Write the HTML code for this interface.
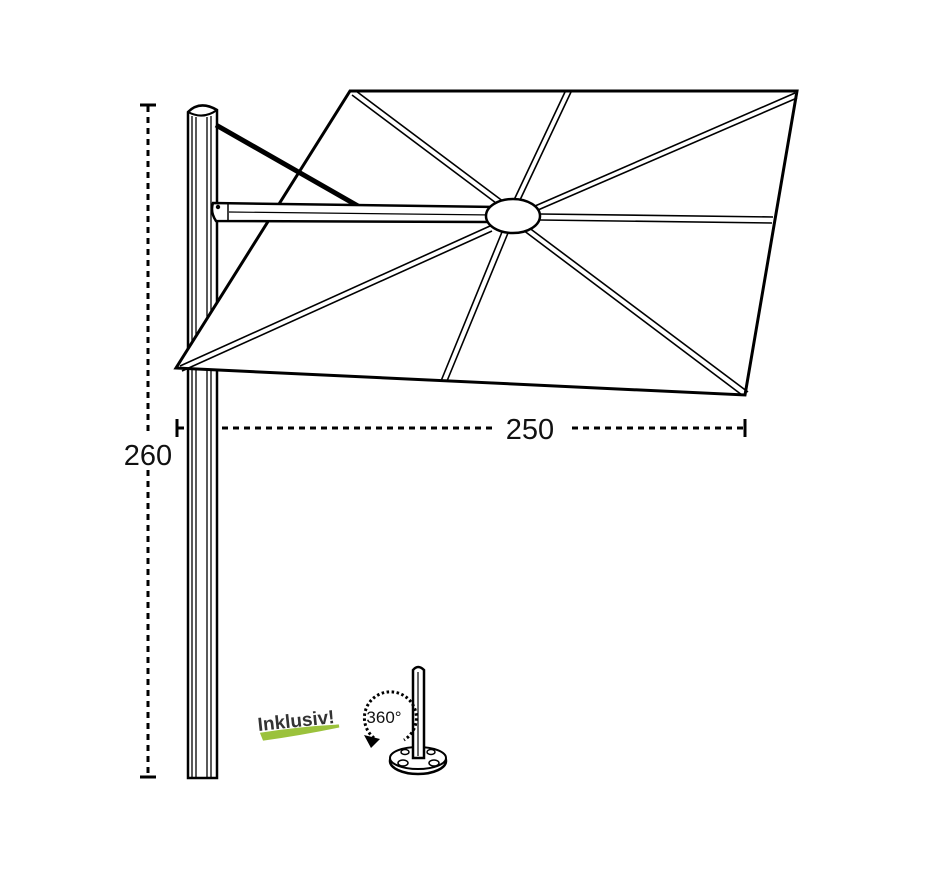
<!DOCTYPE html>
<html><head><style>body{margin:0;background:#fff}</style></head><body>
<svg width="939" height="864" viewBox="0 0 939 864" xmlns="http://www.w3.org/2000/svg" font-family="Liberation Sans, sans-serif">
<rect width="939" height="864" fill="#fff"/>
<g stroke="#000" stroke-width="3" fill="none">
<line x1="148" y1="106" x2="148" y2="432" stroke-dasharray="6,5"/>
<line x1="148" y1="470" x2="148" y2="777" stroke-dasharray="6,5"/>
<line x1="140" y1="105" x2="156" y2="105"/>
<line x1="140" y1="777" x2="156" y2="777"/>
<line x1="178" y1="428" x2="495" y2="428" stroke-dasharray="6,5"/>
<line x1="572" y1="428" x2="745" y2="428" stroke-dasharray="6,5"/>
<line x1="177" y1="419" x2="177" y2="437"/>
<line x1="745" y1="419" x2="745" y2="437"/>
</g>
<text x="148" y="465" font-size="29" text-anchor="middle" fill="#111">260</text>
<text x="530" y="439" font-size="29" text-anchor="middle" fill="#111">250</text>
<!-- pole -->
<g stroke="#000" fill="#fff">
<path d="M188,778 L188,112 Q200,100 217,110 L217,778 Z" stroke-width="2.5"/>
<path d="M188,112 Q203,120 217,110" stroke-width="2" fill="none"/>
<line x1="192" y1="116" x2="192" y2="778" stroke-width="1.3"/>
<line x1="196" y1="117" x2="196" y2="778" stroke-width="1.3"/>
<line x1="207" y1="117" x2="207" y2="778" stroke-width="1.3"/>
<line x1="211" y1="116" x2="211" y2="778" stroke-width="1.3"/>
</g>
<!-- canopy -->
<polygon points="350,91 797,91 745,395 176,368" fill="#fff" stroke="#000" stroke-width="3"/>
<g stroke="#000" stroke-width="1.6" fill="none">
<line x1="352" y1="95" x2="500" y2="206"/><line x1="356" y1="91" x2="504" y2="202"/>
<line x1="565" y1="92" x2="514" y2="200"/><line x1="571" y1="92" x2="520" y2="200"/>
<line x1="795" y1="93" x2="535" y2="206"/><line x1="797" y1="98" x2="538" y2="210"/>
<line x1="773" y1="217" x2="540" y2="214"/><line x1="772" y1="223" x2="540" y2="220"/>
<line x1="742" y1="395" x2="523" y2="230"/><line x1="748" y1="392" x2="528" y2="227"/>
<line x1="441" y1="381" x2="502" y2="232"/><line x1="447" y1="381" x2="508" y2="233"/>
<line x1="180" y1="366" x2="490" y2="226"/><line x1="182" y1="371" x2="492" y2="231"/>
</g>
<line x1="216" y1="125" x2="358" y2="206" stroke="#000" stroke-width="5"/>
<path d="M213,203 L497,207 Q503,212 497,217 L490,222 L216,221 Q210,212 213,203 Z" fill="#fff" stroke="#000" stroke-width="2.5"/>
<line x1="228" y1="204" x2="228" y2="220" stroke="#000" stroke-width="1.5"/>
<line x1="229" y1="212" x2="494" y2="215" stroke="#000" stroke-width="1.2"/>
<circle cx="218" cy="207" r="2.2" fill="#000"/>
<ellipse cx="513" cy="216" rx="27" ry="17" fill="#fff" stroke="#000" stroke-width="2.5"/>
<!-- inklusiv -->
<path d="M262,734 Q300,728 339,726 Q300,734 264,739 Z" fill="#9bc23c" stroke="#9bc23c" stroke-width="3"/>
<text x="296" y="727" font-size="19" font-weight="bold" fill="#333" text-anchor="middle" transform="rotate(-6 296 720)">Inklusiv!</text>
<!-- base -->
<g stroke="#000" fill="#fff">
<ellipse cx="418" cy="761" rx="28" ry="13" stroke-width="2.5"/>
<ellipse cx="418" cy="758" rx="28" ry="11" stroke-width="2"/>
<ellipse cx="403" cy="763" rx="5" ry="3" stroke-width="1.5"/>
<ellipse cx="434" cy="763" rx="5" ry="3" stroke-width="1.5"/>
<ellipse cx="405" cy="752" rx="4" ry="2.5" stroke-width="1.5"/>
<ellipse cx="431" cy="752" rx="4" ry="2.5" stroke-width="1.5"/>
<path d="M413,758 L413,670 Q418,664 424,670 L424,758 Z" stroke-width="2.5"/>
<line x1="418" y1="672" x2="418" y2="756" stroke-width="1.2"/>
</g>
<path d="M374,738 A26,26 0 1 1 404,740" fill="none" stroke="#000" stroke-width="3" stroke-dasharray="2.5,2.5"/>
<polygon points="364,735 380,739 371,748" fill="#000"/>
<text x="384" y="723" font-size="17" text-anchor="middle" fill="#111">360°</text>
</svg>
</body></html>
